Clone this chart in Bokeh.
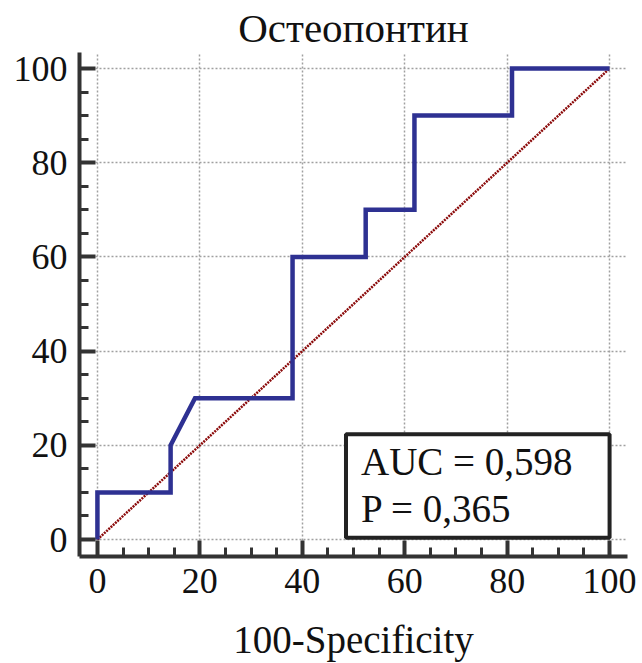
from bokeh.plotting import figure
from bokeh.models import FixedTicker, Label, Range1d
from bokeh.embed import file_html
from bokeh.resources import INLINE

# ROC curve data (100-Specificity, Sensitivity)
fpr = [0, 0, 14.29, 14.29, 19.05, 38.10, 38.10, 52.38, 52.38, 61.90, 61.90, 80.95, 80.95, 100]
tpr = [0, 10, 10, 20, 30, 30, 60, 60, 70, 70, 90, 90, 100, 100]
diag_x = [0, 100]
diag_y = [0, 100]
major_ticks = [0, 20, 40, 60, 80, 100]
minor_ticks = [5, 10, 15, 25, 30, 35, 45, 50, 55, 65, 70, 75, 85, 90, 95]
title_text = "Остеопонтин"
xlabel = "100-Specificity"
auc_text = "AUC = 0,598"
p_text = "P = 0,365"

FONT = "Liberation Serif"

p = figure(width=642, height=663, output_backend="svg", toolbar_location=None,
           x_range=Range1d(-3.5, 103.5), y_range=Range1d(-3.6, 103.4),
           min_border_left=79, min_border_right=15, min_border_top=52, min_border_bottom=107)
p.outline_line_color = None
p.background_fill_color = "white"
p.border_fill_color = "white"

p.title.text = title_text
p.title.align = "center"
p.title.vertical_align = "top"
p.title.text_font = FONT
p.title.text_font_size = "41px"
p.title.text_font_style = "normal"
p.title.text_color = "#111111"
p.title.text_line_height = 0.8
p.title.standoff = 0
p.title.offset = 0

for ax in (p.xaxis[0], p.yaxis[0]):
    ax.ticker = FixedTicker(ticks=major_ticks, minor_ticks=minor_ticks)
    ax.axis_line_width = 4
    ax.axis_line_color = "#333333"
    ax.major_tick_line_width = 4
    ax.major_tick_line_color = "#333333"
    ax.minor_tick_line_width = 3
    ax.minor_tick_line_color = "#333333"
    ax.major_tick_in = 16
    ax.major_tick_out = 0
    ax.minor_tick_in = 9
    ax.minor_tick_out = 0
    ax.major_label_text_font = FONT
    ax.major_label_text_font_size = "36px"
    ax.major_label_text_color = "#111111"
    ax.axis_label_text_font = FONT
    ax.axis_label_text_font_size = "39px"
    ax.axis_label_text_font_style = "normal"
    ax.axis_label_text_color = "#111111"

p.xaxis.axis_label = xlabel
p.xaxis.major_label_standoff = 12
p.xaxis.axis_label_standoff = 22
p.yaxis.major_label_standoff = 12
p.yaxis.major_label_orientation = "horizontal"

for g in (p.xgrid[0], p.ygrid[0]):
    g.ticker = FixedTicker(ticks=major_ticks)
    g.grid_line_color = "#a0a0a0"
    g.grid_line_width = 1.5
    g.grid_line_dash = "2 2"

p.line(diag_x, diag_y, line_color="#8b0a0a", line_width=2.5, line_dash="2 1")
p.line(fpr, tpr, line_color="#2e3192", line_width=4.5, line_join="miter")

stats = Label(x=100, y=0.4, text=auc_text + "\n" + p_text, anchor="bottom_right",
              text_align="left", text_font=FONT, text_font_size="39px", text_color="#111111",
              text_line_height=1.08,
              border_line_color="#222222", border_line_width=4,
              background_fill_color="white", padding=(15, 37, 6, 8))
p.add_layout(stats)

open("out.html", "w").write(file_html(p, INLINE))
